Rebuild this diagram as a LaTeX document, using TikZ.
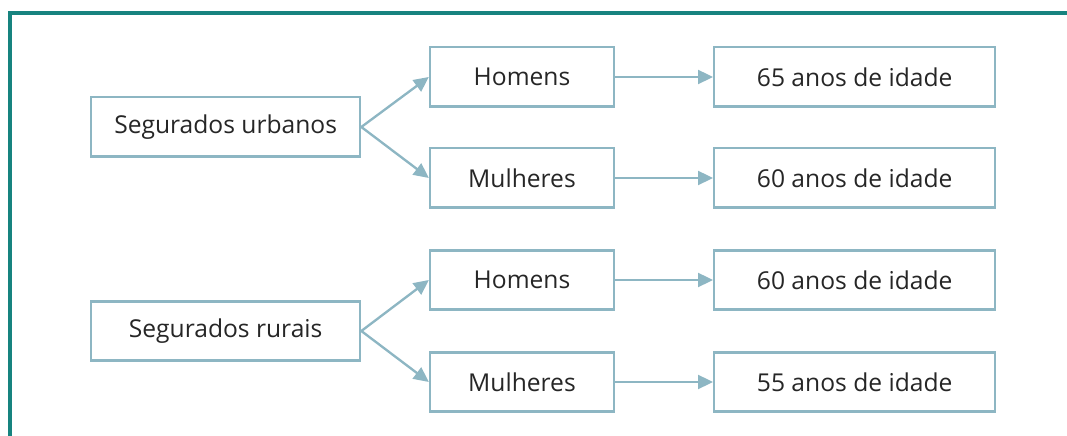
\documentclass[tikz,border=0pt]{standalone}
\usepackage{fontspec}
\setsansfont{Open Sans}
\usepackage{xcolor}
\usepackage{tikz}
\usetikzlibrary{positioning,arrows.meta}
\definecolor{FrameTeal}{HTML}{17837F}
\definecolor{BoxLine}{HTML}{8DB6C3}
\definecolor{TextDark}{HTML}{262626}

\begin{document}
\begin{tikzpicture}[
      bx/.style={rectangle, draw=BoxLine, line width=2pt, fill=white,
                 text=TextDark, font=\sffamily\fontsize{21}{24}\selectfont,
                 inner sep=0pt, minimum height=1.78cm},
      grp/.style={bx, minimum width=8.07cm},
      sx/.style={bx, minimum width=5.52cm},
      age/.style={bx, minimum width=8.43cm},
      ar/.style={-{Triangle[length=4.5mm,width=4.2mm]}, BoxLine, line width=2pt},
    ]
      \useasboundingbox (0,0) rectangle (32.01,13.08);
      % frame
      \draw[FrameTeal, line width=3pt] (32.2,12.69) -| (0.3,-0.2);
      % urbanos
      \node[grp] (urb)  at (6.77, 9.27) {Segurados urbanos};
      \node[sx]  (hu)   at (15.66,10.77) {Homens};
      \node[sx]  (mu)   at (15.66, 7.74) {Mulheres};
      \node[age] (hua)  at (25.64,10.77) {65 anos de idade};
      \node[age] (mua)  at (25.64, 7.74) {60 anos de idade};
      % rurais
      \node[grp] (rur)  at (6.77, 3.15) {Segurados rurais};
      \node[sx]  (hr)   at (15.66, 4.68) {Homens};
      \node[sx]  (mr)   at (15.66, 1.62) {Mulheres};
      \node[age] (hra)  at (25.64, 4.68) {60 anos de idade};
      \node[age] (mra)  at (25.64, 1.62) {55 anos de idade};
      \draw[ar] (urb.east)--(hu.west); \draw[ar] (urb.east)--(mu.west);
      \draw[ar] (rur.east)--(hr.west); \draw[ar] (rur.east)--(mr.west);
      \draw[ar] (hu)--(hua); \draw[ar] (mu)--(mua);
      \draw[ar] (hr)--(hra); \draw[ar] (mr)--(mra);
    \end{tikzpicture}
\end{document}
